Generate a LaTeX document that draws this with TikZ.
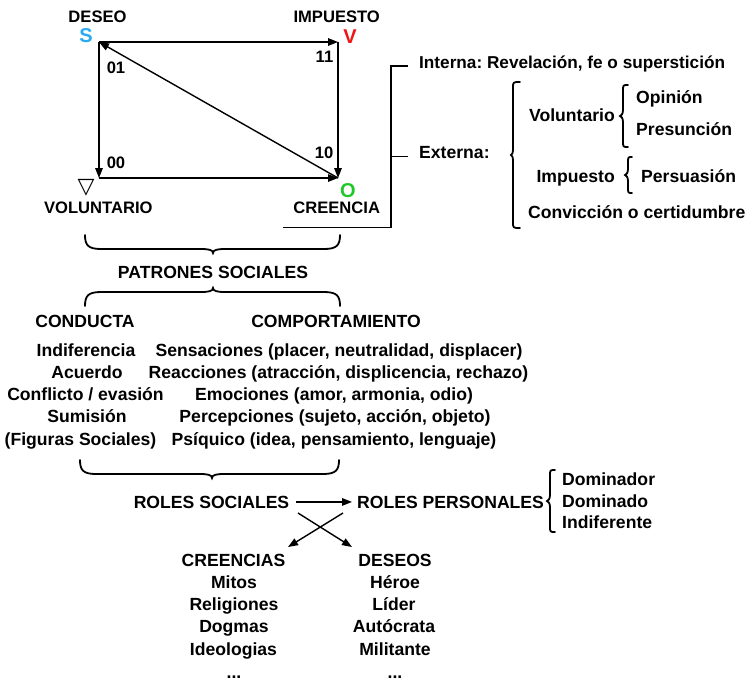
\documentclass[tikz,border=0pt]{standalone}
\usepackage{fontspec}
\setmainfont{Liberation Sans}
\newfontfamily\symfont{DejaVu Sans}
\frenchspacing
\usetikzlibrary{arrows.meta}
\definecolor{sblue}{RGB}{41,171,240}
\definecolor{vred}{RGB}{240,20,20}
\definecolor{ogreen}{RGB}{30,200,40}
% horizontal brace: x1, x2, xtip, yends, direction (1 = tip down, -1 = tip up)
\newcommand{\myHBrace}[5]{%
  \draw[brc] ({#1},{#4}) .. controls ({#1},{#4+(#5)*10}) and ({#1+3},{#4+(#5)*14}) .. ({#1+16},{#4+(#5)*14})
    -- ({#3-12},{#4+(#5)*14}) .. controls ({#3-4},{#4+(#5)*14}) and ({#3},{#4+(#5)*15}) .. ({#3},{#4+(#5)*18})
    .. controls ({#3},{#4+(#5)*15}) and ({#3+4},{#4+(#5)*14}) .. ({#3+12},{#4+(#5)*14})
    -- ({#2-16},{#4+(#5)*14}) .. controls ({#2-3},{#4+(#5)*14}) and ({#2},{#4+(#5)*10}) .. ({#2},{#4});}
% vertical brace (tip left): xends, xbody, xtip, y1, y2, ytip
\newcommand{\myVBrace}[6]{%
  \draw[brc] ({#1},{#4}) .. controls ({#2},{#4}) and ({#2},{#4}) .. ({#2},{#4+6})
    -- ({#2},{#6-6}) .. controls ({#2},{#6-2}) and ({#3+1},{#6}) .. ({#3},{#6})
    .. controls ({#3+1},{#6}) and ({#2},{#6+2}) .. ({#2},{#6+6})
    -- ({#2},{#5-6}) .. controls ({#2},{#5}) and ({#2},{#5}) .. ({#1},{#5});}
\begin{document}
\begin{tikzpicture}[x=1pt,y=-1pt,
  txt/.style={inner sep=0pt, font=\fontsize{17.6}{20}\selectfont\bfseries},
  lbl/.style={inner sep=0pt, font=\fontsize{16.6}{19}\selectfont\bfseries},
  big/.style={inner sep=0pt, font=\fontsize{20}{22}\selectfont\bfseries},
  ln/.style={line width=1.4pt},
  arr/.style={line width=1.4pt, -{Triangle[length=10pt,width=7.5pt]}},
  brc/.style={line width=1.8pt, line cap=round},
]
\useasboundingbox (0,0) rectangle (755,681);

% ---- square of opposition ----
\coordinate (S) at (99,42);
\coordinate (V) at (338,42);
\coordinate (N) at (99,178);
\coordinate (O) at (338,178);
\draw[arr] (S) -- (V);
\draw[arr] (S) -- (N);
\draw[arr] (N) -- (O);
\draw[arr] (V) -- (O);
\draw[arr] (O) -- (S);

\node[lbl, anchor=base] (deseo) at (97.5,22) {DESEO};
\node[lbl, anchor=base] (impuesto) at (336.7,22) {IMPUESTO};
\node[big, anchor=base, text=sblue] (sl) at (86,42) {S};
\node[big, anchor=base, text=vred] (vl) at (350,43) {V};
\node[big, anchor=base, text=ogreen] (ol) at (348,197) {O};
\node[lbl, anchor=base] (n01) at (116,73) {01};
\node[lbl, anchor=base] (n11) at (324.5,62) {11};
\node[lbl, anchor=base] (n10) at (324,158) {10};
\node[lbl, anchor=base] (n00) at (116,168) {00};
\node[inner sep=0pt, font=\symfont\fontsize{22}{24}\selectfont] (tri) at (86,187.5) {▽};
\node[lbl, anchor=base] (vol) at (98.3,213) {VOLUNTARIO};
\node[lbl, anchor=base] (cre) at (336.7,213) {CREENCIA};

% ---- bracket to Interna / Externa ----
\node[txt, anchor=base west, font=\fontsize{17.2}{20}\selectfont\bfseries] (interna) at (419,68) {Interna: Revelación, fe o superstición};
\node[txt, anchor=base west] (externa) at (419,158) {Externa:};
\coordinate (b0) at (283,227.3);
\coordinate (b1) at (391,227.3);
\coordinate (b2) at (391,66);
\coordinate (b3) at (408,66);
\coordinate (b4) at (391,156.7);
\coordinate (b5) at (408,156.7);
\draw[ln] (b0) -- (b1) -- (b2) -- (b3);
\draw[ln] (b4) -- (b5);

\myVBrace{520}{513}{511}{82}{228}{155}
\node[txt, anchor=base east] (volun) at (615,121) {Voluntario};
\myVBrace{628}{623}{620}{85}{147}{116}
\node[txt, anchor=base west] (opi) at (636,103) {Opinión};
\node[txt, anchor=base west] (pre) at (636,135) {Presunción};
\node[txt, anchor=base east] (imp) at (615,182) {Impuesto};
\myVBrace{632}{628}{625}{157}{193}{175}
\node[txt, anchor=base west] (per) at (641,182) {Persuasión};
\node[txt, anchor=base west] (con) at (528,218) {Convicción o certidumbre};

% ---- patrones sociales ----
\myHBrace{85}{340}{213}{235}{1}
\node[txt, anchor=base] (pat) at (213,278) {PATRONES SOCIALES};
\myHBrace{85}{340}{213}{306}{-1}

\node[txt, anchor=base] (cond) at (85,327) {CONDUCTA};
\node[txt, anchor=base] (comp) at (336,327) {COMPORTAMIENTO};

\node[txt, anchor=base] (l1) at (86,356) {Indiferencia};
\node[txt, anchor=base] (l2) at (87,378.3) {Acuerdo};
\node[txt, anchor=base] (l3) at (85.5,400.6) {Conflicto / evasión};
\node[txt, anchor=base] (l4) at (87,422.9) {Sumisión};
\node[txt, anchor=base] (l5) at (80.5,445.2) {(Figuras Sociales)};

\node[txt, anchor=base] (r1) at (339,356) {Sensaciones (placer, neutralidad, displacer)};
\node[txt, anchor=base] (r2) at (338.5,378.3) {Reacciones (atracción, displicencia, rechazo)};
\node[txt, anchor=base] (r3) at (334,400.6) {Emociones (amor, armonia, odio)};
\node[txt, anchor=base] (r4) at (335,422.9) {Percepciones (sujeto, acción, objeto)};
\node[txt, anchor=base] (r5) at (334,445.2) {Psíquico (idea, pensamiento, lenguaje)};

\myHBrace{80}{339}{212}{460}{1}

% ---- roles ----
\node[txt, anchor=base] (rs) at (211.5,508) {ROLES SOCIALES};
\node[txt, anchor=base west] (rp) at (357,508) {ROLES PERSONALES};
\draw[arr] ([xshift=7pt]rs.east) -- ([xshift=-5pt]rp.west);

\myVBrace{555}{550}{547}{470}{532}{501}
\node[txt, anchor=base west] (dom1) at (562,485) {Dominador};
\node[txt, anchor=base west] (dom2) at (562,507) {Dominado};
\node[txt, anchor=base west] (ind) at (562,528) {Indiferente};

\coordinate (x1) at (298,513);
\coordinate (x2) at (352,547);
\coordinate (x3) at (343,513);
\coordinate (x4) at (288,547);
\draw[arr] (x1) -- (x2);
\draw[arr] (x3) -- (x4);

\node[txt, anchor=base] (cr) at (233.5,566) {CREENCIAS};
\node[txt, anchor=base] (cr1) at (234,588.3) {Mitos};
\node[txt, anchor=base] (cr2) at (234,610.6) {Religiones};
\node[txt, anchor=base] (cr3) at (234,632.9) {Dogmas};
\node[txt, anchor=base] (cr4) at (233.5,655.2) {Ideologias};
\node[txt, anchor=base] (cr5) at (234,678) {...};

\node[txt, anchor=base] (de) at (395,566) {DESEOS};
\node[txt, anchor=base] (de1) at (395,588.3) {Héroe};
\node[txt, anchor=base] (de2) at (394,610.6) {Líder};
\node[txt, anchor=base] (de3) at (394,632.9) {Autócrata};
\node[txt, anchor=base] (de4) at (395,655.2) {Militante};
\node[txt, anchor=base] (de5) at (395,678) {...};
\end{tikzpicture}
\end{document}
